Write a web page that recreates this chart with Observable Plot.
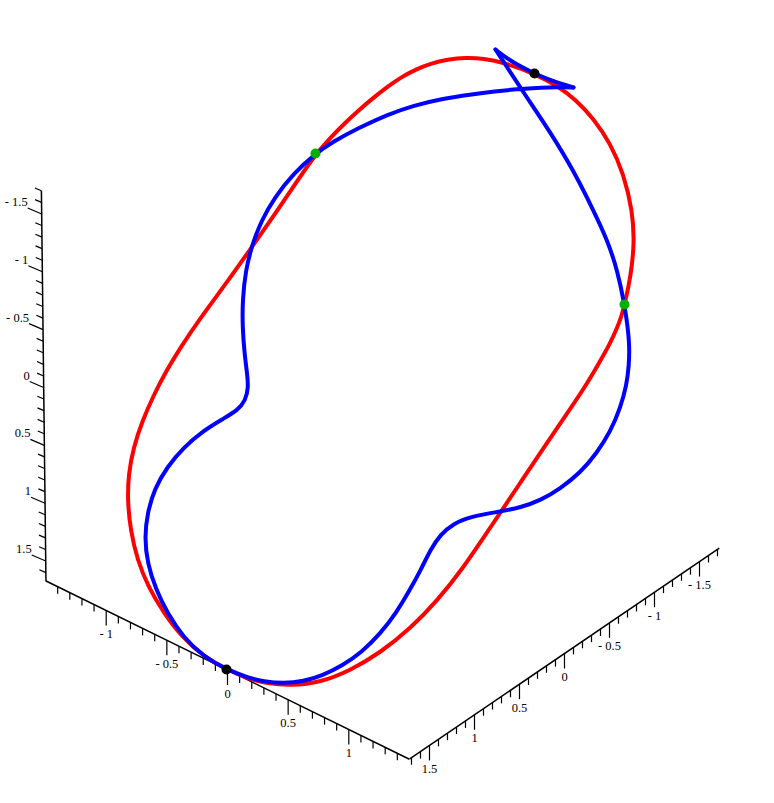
<!DOCTYPE html>
<html>
<head>
<meta charset="utf-8">
<style>html,body{margin:0;padding:0;background:#fff}svg{display:block}</style>
<script src="https://cdn.jsdelivr.net/npm/d3@7"></script>
<script src="https://cdn.jsdelivr.net/npm/@observablehq/plot@0.6"></script>
</head>
<body>
<div id="chart"></div>
<script>
// Curves, [horizontal, vertical] in picture units.
const redCurve = [[226,669],[247,678],[267,683],[290,685],[320,682],[350,670],[380,652],[410,628],[437,600],[463,567],[483,537],[500,512],[520,482],[540,452],[563,418],[583,389],[600,360],[609,344],[616,329],[621,316],[625,300],[630,277],[634,243],[632,210],[623,173],[610,143],[593,118],[575,99],[558,86],[534,73],[503,62],[483,58],[465,57],[447,59],[430,63],[415,69],[400,77],[386,87],[372,98],[358,110],[345,122],[330,137],[315,154],[297,180],[277,210],[253,244],[230,277],[198,320],[180,347],[166,370],[153,395],[142,420],[133,447],[128,473],[127,500],[130,530],[137,560],[148,587],[163,612],[180,635],[203,656]];
const blueMain = [[573,87],[573,87],[560,86.5],[523,88],[493,91],[470,94],[443,98],[413,105],[387,114],[357,128],[333,141],[315,153],[293,173],[274,197],[261,220],[252,243],[245,270],[242,300],[242,327],[244,353],[246.5,372],[248,387],[245,400],[237,410],[223,418],[203,430],[183,447],[167,466],[154,488],[147,512],[144,537],[147,563],[155,588],[167,613],[183,637],[203,656],[226,669],[247,677],[263,681],[283,683],[303,681],[322,675],[342,665],[361,652],[380,633],[396,612],[409,590],[420,570],[430,549],[440,534],[453,523],[470,516],[500,511],[520,507],[540,500],[560,488],[580,472],[596,453],[610,431],[620,407],[626,385],[628.5,365],[629,345],[627,325],[624,304],[617,270],[607,240],[593,210],[573,170],[550,132],[523,92],[495,49],[495,49]];
const blueReturn = [[495,49],[495,49],[504,56],[513,62],[524,68],[534,73],[553,81],[573,87],[573,87]];
const blackPoints = [[226,669],[534,73]];
const greenPoints = [[315,153],[624,304]];

// Axis values
const majorTicks = [-1.5,-1,-0.5,0,0.5,1,1.5];
const verticalTicks = d3.range(-17,17).map(d => d/10);
const frontTicks = d3.range(-14,15).map(d => d/10);
const sideTicks = d3.range(-17,18).map(d => d/10);
const frontLabels = [-1,-0.5,0,0.5,1];
const sideLabels = [-1.5,-1,-0.5,0,0.5,1,1.5];
const verticalEnds = [-1.7,1.67];
const frontEnds = [-1.5,1.5];
const sideEnds = [-1.72,1.72];

// Projection of each 3D axis into the picture
const vert = v => [43.2+1.35*v, 387+115.7*v];
const front = v => [227+121.3*v, 669.5+59.5*v];
const side = v => [564-90*v, 653+61.3*v];
const isMajor = v => majorTicks.some(m => Math.abs(m-v) < 1e-6);
const fmt = v => v < 0 ? "- " + (-v) : String(v);
const serif = "'Liberation Serif','Times New Roman',serif";

const segs = (arr, name) => arr.map(([x,y]) => ({x,y,name}));
const axisLine = (ends, f) => Plot.link([ends], {
  x1:e=>f(e[0])[0], y1:e=>f(e[0])[1], x2:e=>f(e[1])[0], y2:e=>f(e[1])[1],
  stroke:"#000", strokeWidth:1.5
});
const downTicks = (vals, f) => Plot.link(vals, {
  x1:v=>f(v)[0], y1:v=>f(v)[1], x2:v=>f(v)[0], y2:v=>f(v)[1]+(isMajor(v)?15:7),
  stroke:"#000", strokeWidth:1.2
});
const downLabels = (vals, f) => Plot.text(vals, {
  x:v=>f(v)[0], y:v=>f(v)[1]+23.5, text:fmt, textAnchor:"middle", lineAnchor:"middle",
  fontSize:12.5, fontFamily:serif, fill:"#000"
});

const chart = Plot.plot({
  width:774, height:803, margin:0,
  style:{fontFamily:serif, background:"#fff"},
  x:{domain:[0,774], range:[0,774], axis:null},
  y:{domain:[0,803], range:[0,803], axis:null},
  marks:[
    axisLine(verticalEnds, vert),
    axisLine(frontEnds, front),
    axisLine(sideEnds, side),
    Plot.link(verticalTicks, {
      x1:v=>vert(v)[0], y1:v=>vert(v)[1],
      x2:v=>vert(v)[0]-(isMajor(v)?14:6.5), y2:v=>vert(v)[1]-(isMajor(v)?6:2.8),
      stroke:"#000", strokeWidth:1.2
    }),
    downTicks(frontTicks, front),
    downTicks(sideTicks, side),
    Plot.text(majorTicks, {
      x:v=>vert(v)[0]-14, y:v=>vert(v)[1]-12, text:fmt, textAnchor:"end", lineAnchor:"middle",
      fontSize:12.5, fontFamily:serif, fill:"#000"
    }),
    downLabels(frontLabels, front),
    downLabels(sideLabels, side),
    Plot.line(segs(redCurve,"red"), {x:"x", y:"y", stroke:"#ff0000", strokeWidth:4, curve:"basis-closed"}),
    Plot.line(segs(blueMain,"a").concat(segs(blueReturn,"b")), {x:"x", y:"y", z:"name", stroke:"#0000ff", strokeWidth:4, curve:"basis", strokeLinecap:"round"}),
    Plot.dot(blackPoints, {x:d=>d[0], y:d=>d[1], r:5, fill:"#000", stroke:"none"}),
    Plot.dot(greenPoints, {x:d=>d[0], y:d=>d[1], r:5, fill:"#00b000", stroke:"none"})
  ]
});
document.getElementById("chart").append(chart);
</script>
</body>
</html>
